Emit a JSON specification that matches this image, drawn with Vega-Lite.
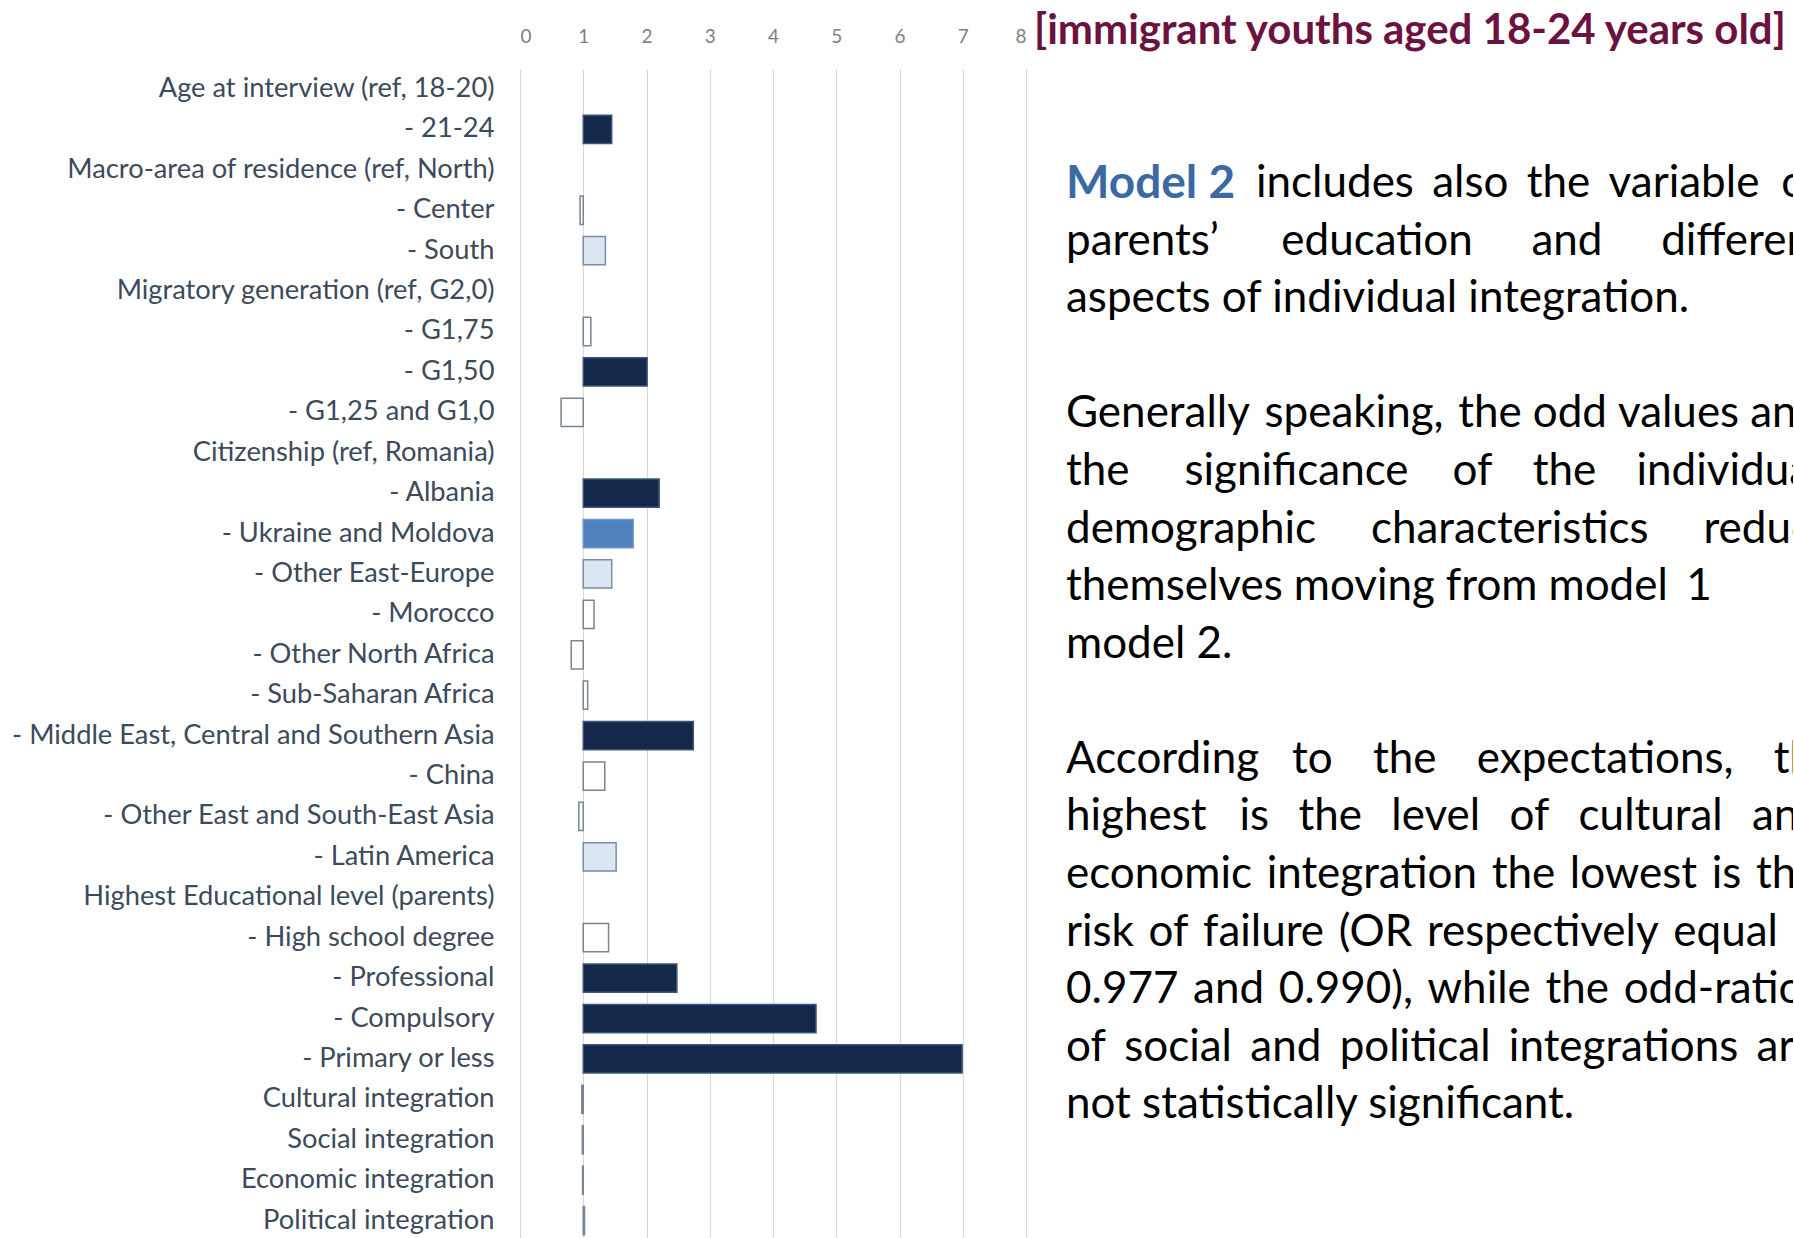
{
  "$schema": "https://vega.github.io/schema/vega-lite/v6.json",
  "background": "white",
  "padding": {"left": 10, "top": 8.8, "right": 0, "bottom": 0},
  "bounds": "flush",
  "spacing": 40,
  "config": {"view": {"stroke": null}, "font": "Lato"},
  "datasets": {
    "rows": [
      {"variable": "Age at interview (ref, 18-20)"},
      {"variable": "- 21-24", "odds": 1.45, "sig": "p<0.01"},
      {"variable": "Macro-area of residence  (ref, North)"},
      {"variable": "- Center", "odds": 0.95, "sig": "n.s."},
      {"variable": "- South", "odds": 1.35, "sig": "p<0.10"},
      {"variable": "Migratory generation (ref, G2,0)"},
      {"variable": "- G1,75", "odds": 1.12, "sig": "n.s."},
      {"variable": "- G1,50", "odds": 2.01, "sig": "p<0.01"},
      {"variable": "- G1,25 and G1,0", "odds": 0.65, "sig": "n.s."},
      {"variable": "Citizenship (ref, Romania)"},
      {"variable": "- Albania", "odds": 2.2, "sig": "p<0.01"},
      {"variable": "- Ukraine and Moldova", "odds": 1.79, "sig": "p<0.05"},
      {"variable": "- Other East-Europe", "odds": 1.45, "sig": "p<0.10"},
      {"variable": "- Morocco", "odds": 1.17, "sig": "n.s."},
      {"variable": "- Other North Africa", "odds": 0.81, "sig": "n.s."},
      {"variable": "- Sub-Saharan Africa", "odds": 1.07, "sig": "n.s."},
      {"variable": "- Middle East, Central and Southern Asia", "odds": 2.74, "sig": "p<0.01"},
      {"variable": "- China", "odds": 1.34, "sig": "n.s."},
      {"variable": "- Other East and South-East Asia", "odds": 0.93, "sig": "n.s."},
      {"variable": "- Latin America", "odds": 1.52, "sig": "p<0.10"},
      {"variable": "Highest Educational level (parents)"},
      {"variable": "- High school degree", "odds": 1.4, "sig": "n.s."},
      {"variable": "- Professional", "odds": 2.48, "sig": "p<0.01"},
      {"variable": "- Compulsory", "odds": 4.68, "sig": "p<0.01"},
      {"variable": "- Primary or less", "odds": 6.99, "sig": "p<0.01"},
      {"variable": "Cultural integration", "odds": 0.977, "sig": "n.s."},
      {"variable": "Social integration", "odds": 0.985, "sig": "n.s."},
      {"variable": "Economic integration", "odds": 0.99, "sig": "n.s."},
      {"variable": "Political integration", "odds": 1.02, "sig": "n.s."}
    ],
    "lead": [{"line": 1, "text": "Model 2"}],
    "para": [
      {"line": 1, "text": "includes\u2005\u2006also\u2005\u2006the\u2005\u2006variable\u2002of"},
      {"line": 2, "text": "parents’\u2003\u2005\u2005\u2006education\u2003\u2004\u2005and\u2003\u2004\u2005different"},
      {"line": 3, "text": "aspects of individual integration."},
      {"line": 5, "text": "Generally\u2004speaking,\u2004the\u2005odd\u2005values\u2005and"},
      {"line": 6, "text": "the\u2003\u2005\u2005significance\u2003\u2005of\u2003\u2006the\u2003\u2006individual"},
      {"line": 7, "text": "demographic\u2003\u2006\u2004characteristics\u2003\u2006\u2004reduce"},
      {"line": 8, "text": "themselves\u2005moving\u2005from\u2005model\u2005\u20061"},
      {"line": 9, "text": "model 2."},
      {"line": 11, "text": "According\u2003to\u2002\u2005\u2006the\u2002\u2005\u2006expectations,\u2002\u2005\u2006the"},
      {"line": 12, "text": "highest\u2002\u2005is\u2002\u2006the\u2002\u2006level\u2002\u2006of\u2002\u2006cultural\u2002\u2006and"},
      {"line": 13, "text": "economic\u2004integration\u2004the\u2004lowest\u2004is\u2004the"},
      {"line": 14, "text": "risk\u2004of\u2004failure\u2004(OR\u2004respectively\u2004equal\u2004to"},
      {"line": 15, "text": "0.977\u2004and\u20040.990),\u2004while\u2004the\u2004odd-ratios"},
      {"line": 16, "text": "of\u2005\u2006social\u2005\u2006and\u2005\u2006political\u2005\u2006integrations\u2005\u2006are"},
      {"line": 17, "text": "not statistically significant."}
    ]
  },
  "hconcat": [
    {
      "width": 506,
      "height": 1172,
      "data": {"name": "rows"},
      "mark": {"type": "bar", "strokeWidth": 1.5},
      "encoding": {
        "y": {
          "field": "variable", "type": "nominal", "sort": null,
          "scale": {
            "domain": ["Age at interview (ref, 18-20)", "- 21-24", "Macro-area of residence  (ref, North)", "- Center", "- South", "Migratory generation (ref, G2,0)", "- G1,75", "- G1,50", "- G1,25 and G1,0", "Citizenship (ref, Romania)", "- Albania", "- Ukraine and Moldova", "- Other East-Europe", "- Morocco", "- Other North Africa", "- Sub-Saharan Africa", "- Middle East, Central and Southern Asia", "- China", "- Other East and South-East Asia", "- Latin America", "Highest Educational level (parents)", "- High school degree", "- Professional", "- Compulsory", "- Primary or less", "Cultural integration", "Social integration", "Economic integration", "Political integration"],
            "paddingInner": 0.3, "paddingOuter": 0.15
          },
          "axis": {"title": null, "ticks": false, "domain": false, "labelFontSize": 27.3, "labelColor": "#3c4a5c", "labelPadding": 26, "labelLimit": 0, "labelFont": "Lato"}
        },
        "x": {
          "field": "odds", "type": "quantitative",
          "scale": {"domain": [0, 8], "nice": false, "zero": false},
          "axis": {"orient": "top", "values": [0, 1, 2, 3, 4, 5, 6, 7, 8], "title": null, "grid": true, "gridColor": "#d9d9d9", "gridWidth": 1.2, "domain": false, "ticks": false, "labelFontSize": 19, "labelColor": "#7f7f7f", "labelPadding": 22, "labelFont": "Lato"}
        },
        "x2": {"datum": 1},
        "color": {
          "field": "sig", "type": "nominal",
          "scale": {"domain": ["p<0.01", "p<0.05", "p<0.10", "n.s."], "range": ["#13284a", "#4f81bd", "#dce6f2", "#ffffff"]},
          "legend": null
        },
        "stroke": {
          "field": "sig", "type": "nominal",
          "scale": {"domain": ["p<0.01", "p<0.05", "p<0.10", "n.s."], "range": ["#3f5577", "#7196c8", "#7d8ca2", "#7a8594"]},
          "legend": null
        }
      }
    },
    {
      "width": 727,
      "height": 1172,
      "title": {"text": "[immigrant youths aged 18-24 years old]", "anchor": "start", "frame": "group", "font": "Lato", "fontWeight": "bold", "fontSize": 42, "color": "#6b1240", "dx": -32, "offset": -3.8, "baseline": "middle"},
      "layer": [
        {
          "data": {"name": "lead"},
          "mark": {"type": "text", "align": "left", "baseline": "middle", "font": "Lato", "fontWeight": "bold", "fontSize": 46, "color": "#3b69a3"},
          "encoding": {
            "x": {"datum": 0, "type": "quantitative", "scale": {"domain": [0, 1]}, "axis": null},
            "y": {"field": "line", "type": "quantitative", "scale": {"domain": [-1, 19.35], "reverse": true, "nice": false, "zero": false}, "axis": null},
            "text": {"field": "text"}
          }
        },
        {
          "data": {"name": "para"},
          "transform": [{"filter": "datum.line == 1"}],
          "mark": {"type": "text", "align": "left", "baseline": "middle", "font": "Lato", "fontSize": 44, "color": "#000000", "dx": 190, "clip": true},
          "encoding": {
            "x": {"datum": 0, "type": "quantitative"},
            "y": {"field": "line", "type": "quantitative"},
            "text": {"field": "text"}
          }
        },
        {
          "data": {"name": "para"},
          "transform": [{"filter": "datum.line != 1"}],
          "mark": {"type": "text", "align": "left", "baseline": "middle", "font": "Lato", "fontSize": 44, "color": "#000000", "clip": true},
          "encoding": {
            "x": {"datum": 0, "type": "quantitative"},
            "y": {"field": "line", "type": "quantitative"},
            "text": {"field": "text"}
          }
        }
      ]
    }
  ]
}
